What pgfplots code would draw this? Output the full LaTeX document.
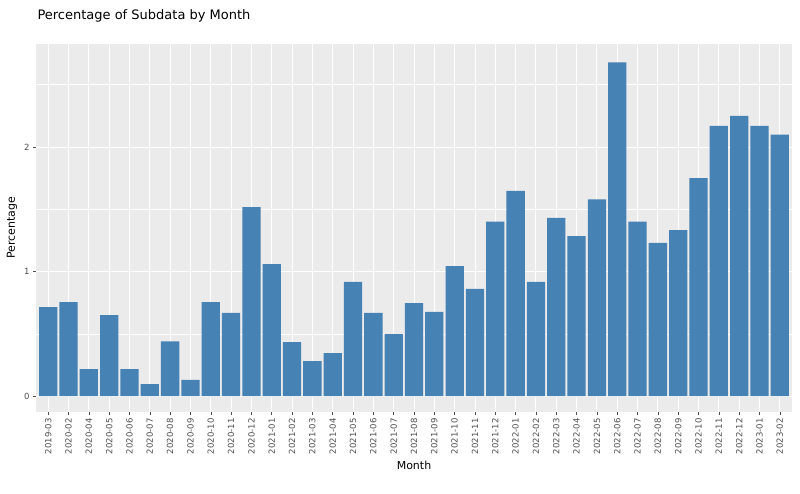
\documentclass[border=0pt]{standalone}
\usepackage{pgfplots}
\pgfplotsset{compat=1.18}
\usepackage{fontspec}
\setmainfont{DejaVu Sans}
\definecolor{bg}{HTML}{EBEBEB}
\definecolor{barc}{HTML}{4682B4}
\definecolor{tk}{HTML}{4D4D4D}
\begin{document}
\begin{tikzpicture}
\useasboundingbox (0pt,0pt) rectangle (800pt,494pt);
\begin{axis}[
  at={(36pt,82pt)}, anchor=south west,
  scale only axis, width=756pt, height=368pt,
  xmin=0.4, xmax=37.6, ymin=-0.128, ymax=2.827,
  axis background/.style={fill=bg},
  axis line style={draw=none},
  ytick={0,1,2}, minor ytick={0.5,1.5,2.5},
  xtick={1,...,37},
  xticklabels={2019-03,2020-02,2020-04,2020-05,2020-06,2020-07,2020-08,2020-09,2020-10,2020-11,2020-12,2021-01,2021-02,2021-03,2021-04,2021-05,2021-06,2021-07,2021-08,2021-09,2021-10,2021-11,2021-12,2022-01,2022-02,2022-03,2022-04,2022-05,2022-06,2022-07,2022-08,2022-09,2022-10,2022-11,2022-12,2023-01,2023-02},
  x tick label style={rotate=90, anchor=east, font=\fontsize{8.5}{10}\selectfont, text=tk},
  y tick label style={font=\fontsize{8.5}{10}\selectfont, text=tk},
  /pgf/number format/assume math mode=true,
  grid=both,
  major grid style={white, line width=0.9pt},
  minor grid style={white, line width=0.45pt},
  tick style={tk, line width=0.5pt},
  major tick length=3pt, minor tick length=0pt,
  tick align=outside, xtick pos=bottom, ytick pos=left,
  xlabel={Month}, ylabel={Percentage},
  label style={font=\fontsize{11}{13}\selectfont},
  title={Percentage of Subdata by Month},
  title style={font=\fontsize{13}{15}\selectfont, at={(0,1)}, anchor=south west, xshift=-2pt, yshift=12pt},
]
\addplot[ybar, bar width=0.9, fill=barc, draw=none] coordinates {
(1,0.715)(2,0.755)(3,0.217)(4,0.65)(5,0.217)(6,0.096)(7,0.44)(8,0.13)(9,0.755)(10,0.667)
(11,1.518)(12,1.06)(13,0.434)(14,0.28)(15,0.345)(16,0.916)(17,0.667)(18,0.498)(19,0.747)(20,0.675)
(21,1.044)(22,0.86)(23,1.4)(24,1.647)(25,0.916)(26,1.43)(27,1.285)(28,1.58)(29,2.68)(30,1.4)
(31,1.23)(32,1.333)(33,1.75)(34,2.17)(35,2.25)(36,2.17)(37,2.1)};
\end{axis}
\end{tikzpicture}
\end{document}
